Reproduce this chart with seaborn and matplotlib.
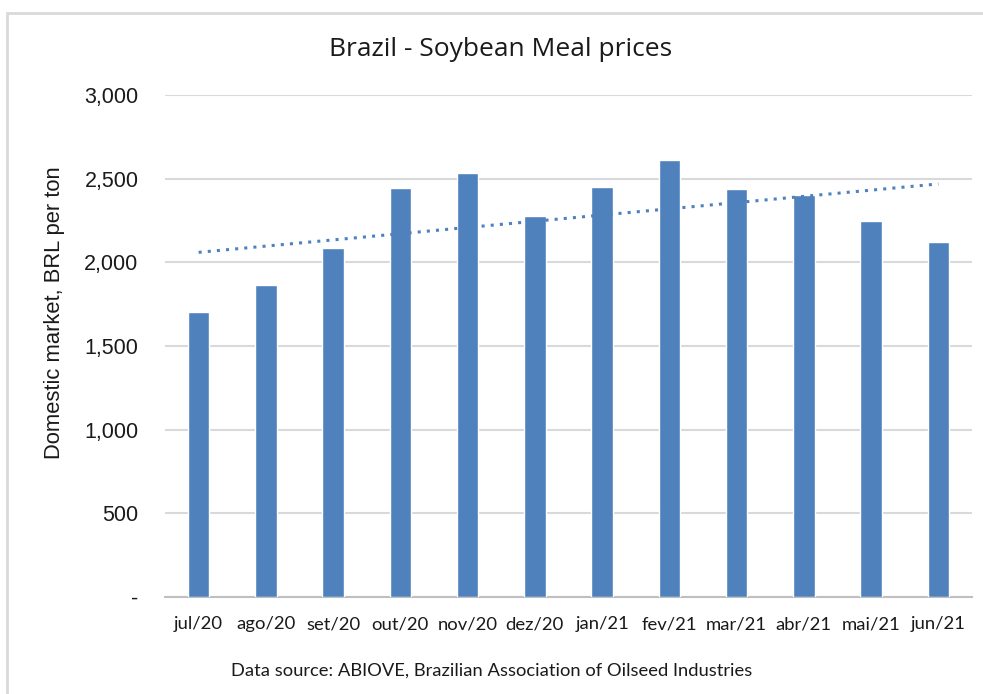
import numpy as np
import pandas as pd
import matplotlib
matplotlib.use("Agg")
import matplotlib.pyplot as plt
import matplotlib.ticker as mticker
from matplotlib.patches import Rectangle
import seaborn as sns

# Monthly domestic soybean meal prices (BRL/ton)
months = ["jul/20", "ago/20", "set/20", "out/20", "nov/20", "dez/20",
          "jan/21", "fev/21", "mar/21", "abr/21", "mai/21", "jun/21"]
prices = [1706, 1862, 2085, 2442, 2531, 2277, 2448, 2613, 2436, 2404, 2247, 2119]

df = pd.DataFrame({"month": months, "price": prices})

sns.set_style("white")
bar_color = "#4F81BD"
text_color = "#1a1a1a"

fig = plt.figure(figsize=(9.83, 6.94), dpi=100)
ax = fig.add_axes([165 / 983, 1 - 597 / 694, (972 - 165) / 983, (597 - 95) / 694])

sns.barplot(data=df, x="month", y="price", color=bar_color, width=0.32,
            saturation=1, ax=ax, zorder=3)

# linear trend line
xs = np.arange(len(prices))
slope, intercept = np.polyfit(xs, prices, 1)
ax.plot(xs, slope * xs + intercept, linestyle=(0, (1, 2)), color=bar_color,
        linewidth=2.2, zorder=4)

ax.set_ylim(0, 3000)
ax.set_xlim(-0.5, len(months) - 0.5)
ax.yaxis.set_major_locator(mticker.MultipleLocator(500))
ax.yaxis.set_major_formatter(mticker.FuncFormatter(
    lambda v, p: "-" if v == 0 else f"{v:,.0f}"))
ax.grid(axis="y", color="#d9d9d9", linewidth=1.5, zorder=0)
ax.set_axisbelow(True)

for s in ["top", "right", "left"]:
    ax.spines[s].set_visible(False)
ax.spines["bottom"].set_color("#bfbfbf")
ax.spines["bottom"].set_linewidth(1.5)

# tick marks between categories, labels at centers
ax.set_xticks(np.arange(-0.5, len(months), 1.0), minor=False)
ax.set_xticklabels([])
ax.set_xticks(xs, minor=True)
ax.set_xticklabels(months, minor=True, fontfamily="Lato", fontsize=13.3,
                   color=text_color)
ax.tick_params(axis="x", which="major", length=5, width=1.2, color="#bfbfbf",
               direction="out")
ax.tick_params(axis="x", which="minor", length=0, pad=14)
ax.tick_params(axis="y", length=0, pad=19)
for lab in ax.get_yticklabels():
    lab.set_fontfamily("Liberation Sans")
    lab.set_fontsize(15.5)
    lab.set_color(text_color)

ax.set_xlabel("")
ax.set_ylabel("Domestic market, BRL per ton", fontfamily="Liberation Sans",
              fontsize=15.8, color=text_color)
ax.yaxis.set_label_coords((65 - 165) / 807, 0.566)

fig.text(0.509, 1 - 50 / 694, "Brazil - Soybean Meal prices", ha="center",
         va="center", fontfamily="Open Sans", fontsize=19, color=text_color)
fig.text(492 / 983, 1 - 671 / 694,
         "Data source: ABIOVE, Brazilian Association of Oilseed Industries",
         ha="center", va="center", fontfamily="Lato", fontsize=13.2,
         color=text_color)

# outer chart border (partially cropped like the original)
fig.patches.append(Rectangle((7 / 983, -0.2), 1.2, 0.2 + 1 - 13 / 694,
                             transform=fig.transFigure, fill=False,
                             edgecolor="#d9d9d9", linewidth=2))

fig.savefig("out.png", dpi=100)
